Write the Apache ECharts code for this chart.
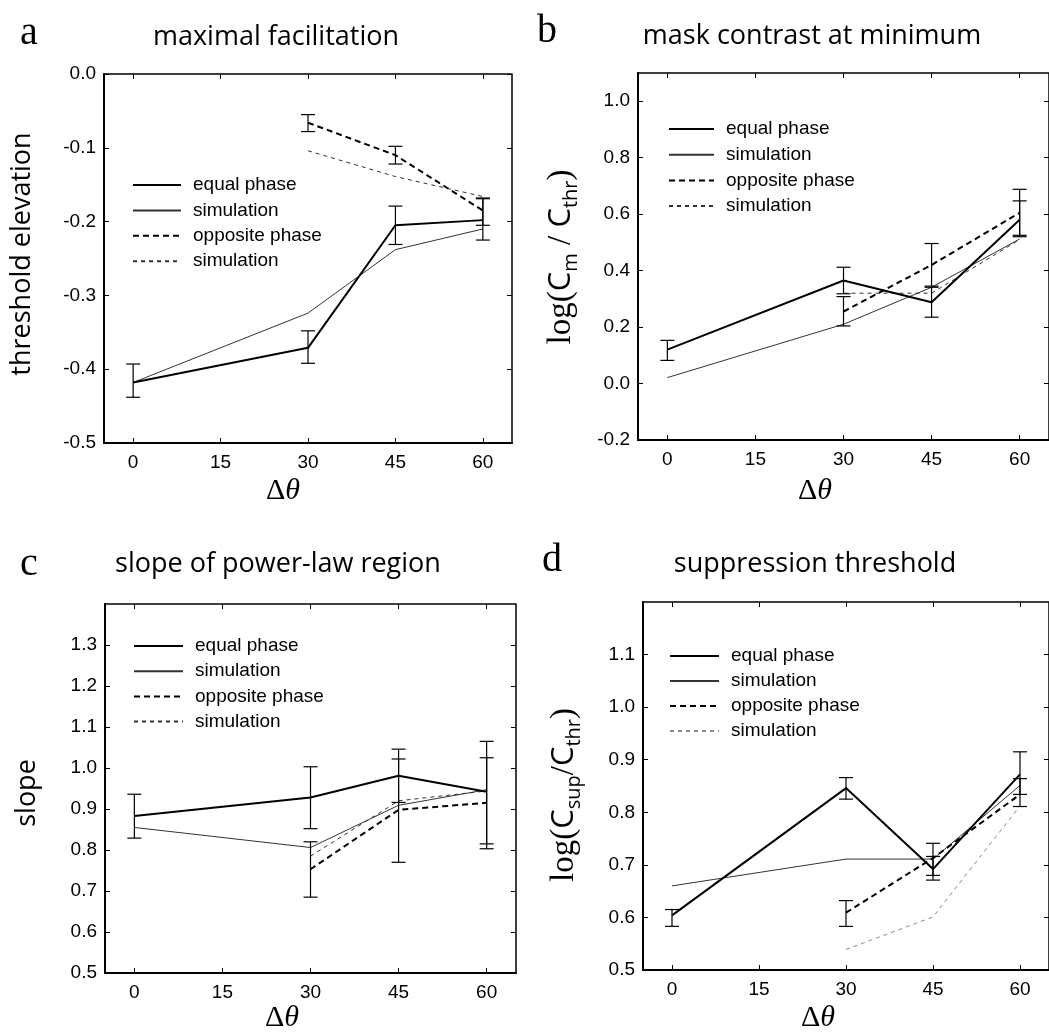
<!DOCTYPE html>
<html>
<head>
<meta charset="utf-8">
<script src="https://cdn.jsdelivr.net/npm/echarts@6/dist/echarts.min.js"></script>
<style>
html,body{margin:0;padding:0;background:#fff;}
#chart{width:1049px;height:1032px;}
</style>
</head>
<body>
<div id="chart"></div>
<script>
// ---------------- data ----------------
const X_ALL = [0, 30, 45, 60];
const X_OPP = [30, 45, 60];
const X_TICKS = [0, 15, 30, 45, 60];
const LEGEND_LABELS = ['equal phase', 'simulation', 'opposite phase', 'simulation'];

// a: maximal facilitation
const A_Y_TICKS = [-0.5, -0.4, -0.3, -0.2, -0.1, 0.0];
const A_EQUAL = [-0.418, -0.371, -0.205, -0.198];
const A_EQUAL_LO = [-0.438, -0.392, -0.231, -0.225];
const A_EQUAL_HI = [-0.393, -0.348, -0.179, -0.169];
const A_SIM = [-0.418, -0.324, -0.238, -0.210];
const A_OPP = [-0.066, -0.110, -0.185];
const A_OPP_LO = [-0.078, -0.122, -0.205];
const A_OPP_HI = [-0.055, -0.098, -0.168];
const A_OPP_SIM = [-0.104, -0.139, -0.166];

// b: mask contrast at minimum
const B_Y_TICKS = [-0.2, 0.0, 0.2, 0.4, 0.6, 0.8, 1.0];
const B_EQUAL = [0.120, 0.365, 0.288, 0.580];
const B_EQUAL_LO = [0.082, 0.318, 0.235, 0.520];
const B_EQUAL_HI = [0.153, 0.412, 0.341, 0.647];
const B_SIM = [0.021, 0.210, 0.341, 0.512];
const B_OPP = [0.255, 0.420, 0.605];
const B_OPP_LO = [0.204, 0.345, 0.525];
const B_OPP_HI = [0.308, 0.496, 0.688];
const B_OPP_SIM = [0.320, 0.320, 0.510];

// c: slope of power-law region
const C_Y_TICKS = [0.5, 0.6, 0.7, 0.8, 0.9, 1.0, 1.1, 1.2, 1.3];
const C_EQUAL = [0.883, 0.928, 0.981, 0.942];
const C_EQUAL_LO = [0.829, 0.852, 0.916, 0.815];
const C_EQUAL_HI = [0.936, 1.003, 1.046, 1.065];
const C_SIM = [0.855, 0.806, 0.909, 0.947];
const C_OPP = [0.753, 0.898, 0.915];
const C_OPP_LO = [0.685, 0.770, 0.803];
const C_OPP_HI = [0.820, 1.022, 1.025];
const C_OPP_SIM = [0.785, 0.920, 0.944];

// d: suppression threshold
const D_Y_TICKS = [0.5, 0.6, 0.7, 0.8, 0.9, 1.0, 1.1];
const D_EQUAL = [0.604, 0.846, 0.692, 0.872];
const D_EQUAL_LO = [0.583, 0.825, 0.671, 0.834];
const D_EQUAL_HI = [0.615, 0.866, 0.716, 0.915];
const D_SIM = [0.660, 0.711, 0.711, 0.851];
const D_OPP = [0.609, 0.713, 0.834];
const D_OPP_LO = [0.583, 0.680, 0.811];
const D_OPP_HI = [0.632, 0.741, 0.864];
const D_OPP_SIM = [0.539, 0.601, 0.812];

const TITLES = ['maximal facilitation', 'mask contrast at minimum', 'slope of power-law region', 'suppression threshold'];
const LETTERS = ['a', 'b', 'c', 'd'];

// ---------------- layout ----------------
const SANS = '"Liberation Sans", Arial, sans-serif';
const TITLE_FONT = '"Open Sans", "Noto Sans", sans-serif';
const SERIF = '"Liberation Serif", "DejaVu Serif", serif';

const panels = [
  { key: 'a', grid: {left: 104, top: 74, width: 408, height: 369}, yMin: -0.5, yMax: 0.0, yTicks: A_Y_TICKS,
    eq: A_EQUAL, eqLo: A_EQUAL_LO, eqHi: A_EQUAL_HI, sim: A_SIM, opp: A_OPP, oppLo: A_OPP_LO, oppHi: A_OPP_HI, oppSim: A_OPP_SIM,
    legend: {left: 132, row0: 185, itemWidth: 48, pitch: 25.4}, oppSimColor: '#333',
    title: {x: 276, y: 37}, letter: {x: 29, y: 33}, yName: {x: 22, y: 254}, xName: {x: 283, y: 491} },
  { key: 'b', grid: {left: 638, top: 73, width: 412, height: 367}, yMin: -0.2, yMax: 1.1, yTicks: B_Y_TICKS,
    eq: B_EQUAL, eqLo: B_EQUAL_LO, eqHi: B_EQUAL_HI, sim: B_SIM, opp: B_OPP, oppLo: B_OPP_LO, oppHi: B_OPP_HI, oppSim: B_OPP_SIM,
    legend: {left: 668, row0: 129, itemWidth: 45, pitch: 25.7}, oppSimColor: '#333',
    title: {x: 812, y: 36}, letter: {x: 547, y: 31}, yName: {x: 561, y: 257}, xName: {x: 815, y: 491} },
  { key: 'c', grid: {left: 105, top: 604, width: 411, height: 369}, yMin: 0.5, yMax: 1.4, yTicks: C_Y_TICKS,
    eq: C_EQUAL, eqLo: C_EQUAL_LO, eqHi: C_EQUAL_HI, sim: C_SIM, opp: C_OPP, oppLo: C_OPP_LO, oppHi: C_OPP_HI, oppSim: C_OPP_SIM,
    legend: {left: 133, row0: 646, itemWidth: 49, pitch: 25.2}, oppSimColor: '#333',
    title: {x: 278, y: 564}, letter: {x: 29, y: 564}, yName: {x: 27, y: 793}, xName: {x: 282, y: 1018} },
  { key: 'd', grid: {left: 643, top: 602, width: 412, height: 368}, yMin: 0.5, yMax: 1.2, yTicks: D_Y_TICKS,
    eq: D_EQUAL, eqLo: D_EQUAL_LO, eqHi: D_EQUAL_HI, sim: D_SIM, opp: D_OPP, oppLo: D_OPP_LO, oppHi: D_OPP_HI, oppSim: D_OPP_SIM,
    legend: {left: 669, row0: 656, itemWidth: 49, pitch: 25}, oppSimColor: '#888',
    title: {x: 815, y: 564}, letter: {x: 552, y: 560}, yName: {x: 564, y: 795}, xName: {x: 818, y: 1018} }
];

function pairs(xs, ys) { return xs.map((x, i) => [x, ys[i]]); }
function triples(xs, lo, hi) { return xs.map((x, i) => [x, lo[i], hi[i]]); }

function errRender(params, api) {
  const x = api.value(0), lo = api.value(1), hi = api.value(2);
  const p1 = api.coord([x, lo]);
  const p2 = api.coord([x, hi]);
  const w = 7;
  const st = {stroke: '#000', lineWidth: 1.2};
  return {
    type: 'group',
    children: [
      {type: 'line', shape: {x1: p1[0], y1: p1[1], x2: p2[0], y2: p2[1]}, style: st},
      {type: 'line', shape: {x1: p1[0] - w, y1: p1[1], x2: p1[0] + w, y2: p1[1]}, style: st},
      {type: 'line', shape: {x1: p2[0] - w, y1: p2[1], x2: p2[0] + w, y2: p2[1]}, style: st}
    ]
  };
}

const grids = [], xAxes = [], yAxes = [], series = [], legends = [], graphics = [];
const labelOf = {};

panels.forEach((p, i) => {
  grids.push(Object.assign({show: true, borderColor: '#000', borderWidth: 1.5, backgroundColor: 'transparent', containLabel: false}, p.grid));
  const tickStyle = {color: '#000', width: 1};
  xAxes.push({
    type: 'value', gridIndex: i, min: -5, max: 65, position: 'bottom',
    axisLine: {show: true, onZero: false, lineStyle: {color: '#000', width: 2}},
    axisTick: {show: true, inside: true, length: 5, customValues: X_TICKS, lineStyle: tickStyle},
    axisLabel: {show: true, customValues: X_TICKS, fontFamily: SANS, fontSize: 19, color: '#000', margin: 10},
    splitLine: {show: false}
  });
  xAxes.push({
    type: 'value', gridIndex: i, min: -5, max: 65, position: 'top',
    axisLine: {show: false, onZero: false},
    axisTick: {show: true, inside: true, length: 5, customValues: X_TICKS, lineStyle: tickStyle},
    axisLabel: {show: false}, splitLine: {show: false}
  });
  yAxes.push({
    type: 'value', gridIndex: i, min: p.yMin, max: p.yMax, position: 'left',
    axisLine: {show: true, onZero: false, lineStyle: {color: '#000', width: 2}},
    axisTick: {show: true, inside: true, length: 5, customValues: p.yTicks, lineStyle: tickStyle},
    axisLabel: {show: true, customValues: p.yTicks, formatter: v => Number(v).toFixed(1), fontFamily: SANS, fontSize: 19, color: '#000', margin: 8},
    splitLine: {show: false}
  });
  yAxes.push({
    type: 'value', gridIndex: i, min: p.yMin, max: p.yMax, position: 'right',
    axisLine: {show: false, onZero: false},
    axisTick: {show: true, inside: true, length: 5, customValues: p.yTicks, lineStyle: tickStyle},
    axisLabel: {show: false}, splitLine: {show: false}
  });

  const names = ['eq', 'sim', 'opp', 'oppsim'].map(s => p.key + '_' + s);
  names.forEach((n, k) => { labelOf[n] = LEGEND_LABELS[k]; });
  const base = {type: 'line', xAxisIndex: 2 * i, yAxisIndex: 2 * i, symbol: 'none', showSymbol: false, animation: false, silent: true};
  series.push(Object.assign({}, base, {name: names[0], data: pairs(X_ALL, p.eq), lineStyle: {color: '#000', width: 2}, itemStyle: {color: '#000'}, z: 5}));
  series.push(Object.assign({}, base, {name: names[1], data: pairs(X_ALL, p.sim), lineStyle: {color: '#333', width: 1}, itemStyle: {color: '#333'}, z: 4}));
  series.push(Object.assign({}, base, {name: names[2], data: pairs(X_OPP, p.opp), lineStyle: {color: '#000', width: 2, type: [6, 4]}, itemStyle: {color: '#000'}, z: 5}));
  series.push(Object.assign({}, base, {name: names[3], data: pairs(X_OPP, p.oppSim), lineStyle: {color: p.oppSimColor, width: 1, type: [4, 4]}, itemStyle: {color: p.oppSimColor}, z: 4}));
  series.push({type: 'custom', xAxisIndex: 2 * i, yAxisIndex: 2 * i, renderItem: errRender, data: triples(X_ALL, p.eqLo, p.eqHi), encode: {x: 0, y: [1, 2]}, animation: false, silent: true, z: 6});
  series.push({type: 'custom', xAxisIndex: 2 * i, yAxisIndex: 2 * i, renderItem: errRender, data: triples(X_OPP, p.oppLo, p.oppHi), encode: {x: 0, y: [1, 2]}, animation: false, silent: true, z: 6});

  legends.push({
    orient: 'vertical', left: p.legend.left, top: p.legend.row0 - 9.5, padding: 0,
    itemWidth: p.legend.itemWidth, itemHeight: 19, itemGap: p.legend.pitch - 19,
    data: names, selectedMode: false, formatter: n => labelOf[n],
    itemStyle: {opacity: 0, borderWidth: 0},
    textStyle: {fontFamily: SANS, fontSize: 19, lineHeight: 19, color: '#000', padding: [0, 0, 0, 7]}
  });

  graphics.push({type: 'text', x: p.title.x, y: p.title.y, style: {text: TITLES[i], fontFamily: TITLE_FONT, fontSize: 27, fill: '#000', align: 'center', verticalAlign: 'middle'}});
  graphics.push({type: 'text', x: p.letter.x, y: p.letter.y, style: {text: LETTERS[i], fontFamily: SERIF, fontSize: 40, fill: '#000', align: 'center', verticalAlign: 'middle'}});
  graphics.push({type: 'text', x: p.xName.x, y: p.xName.y, style: {
    text: '{d|Δ}{t|θ}', align: 'center', verticalAlign: 'middle',
    rich: {d: {fontFamily: SERIF, fontSize: 30, fill: '#000'}, t: {fontFamily: SERIF, fontSize: 30, fontStyle: 'italic', fill: '#000'}}
  }});
});

// y-axis names
const subRich = {
  s: {fontFamily: SERIF, fontSize: 33, lineHeight: 40, verticalAlign: 'middle', fill: '#000'},
  c: {fontFamily: TITLE_FONT, fontSize: 31, lineHeight: 40, verticalAlign: 'middle', fill: '#000'},
  u: {fontFamily: TITLE_FONT, fontSize: 20, lineHeight: 40, verticalAlign: 'bottom', fill: '#000'}
};
const Y_NAMES = [
  {text: 'threshold elevation', rich: null},
  {text: '{s|log(}{c|C}{u|m}{s| / }{c|C}{u|thr}{s|)}', rich: subRich},
  {text: 'slope', rich: null},
  {text: '{s|log(}{c|C}{u|sup}{s|/}{c|C}{u|thr}{s|)}', rich: subRich}
];
panels.forEach((p, i) => {
  const st = {text: Y_NAMES[i].text, align: 'center', verticalAlign: 'middle', fill: '#000'};
  if (Y_NAMES[i].rich) { st.rich = Y_NAMES[i].rich; } else { st.fontFamily = TITLE_FONT; st.fontSize = 27; }
  graphics.push({type: 'text', x: p.yName.x, y: p.yName.y, rotation: Math.PI / 2, style: st});
});

const chart = echarts.init(document.getElementById('chart'), null, {renderer: 'canvas'});
chart.setOption({
  backgroundColor: '#fff',
  animation: false,
  grid: grids,
  xAxis: xAxes,
  yAxis: yAxes,
  legend: legends,
  series: series,
  graphic: graphics
});
</script>
</body>
</html>
